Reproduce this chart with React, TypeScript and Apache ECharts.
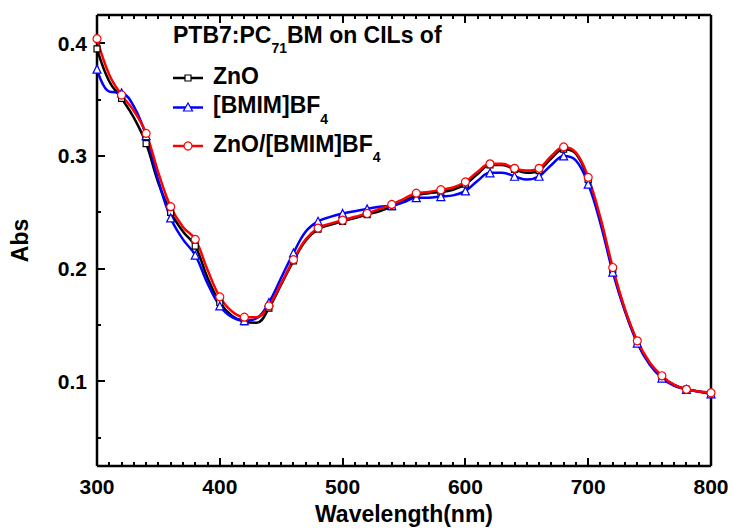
import React, { useEffect, useRef } from 'react';
import * as echarts from 'echarts';

const wavelengths = [300, 310, 320, 330, 340, 350, 360, 370, 380, 390, 400, 410, 420, 430, 440, 450, 460, 470, 480, 490, 500, 510, 520, 530, 540, 550, 560, 570, 580, 590, 600, 610, 620, 630, 640, 650, 660, 670, 680, 690, 700, 710, 720, 730, 740, 750, 760, 770, 780, 790, 800];

const absZnO = [0.395, 0.366, 0.351, 0.334, 0.311, 0.276, 0.250, 0.233, 0.220, 0.192, 0.170, 0.158, 0.153, 0.152, 0.165, 0.186, 0.207, 0.225, 0.235, 0.239, 0.242, 0.245, 0.248, 0.251, 0.255, 0.260, 0.265, 0.267, 0.268, 0.270, 0.275, 0.284, 0.292, 0.292, 0.288, 0.285, 0.287, 0.298, 0.306, 0.302, 0.279, 0.243, 0.199, 0.163, 0.135, 0.116, 0.104, 0.097, 0.093, 0.091, 0.089];

const absBMIM = [0.377, 0.357, 0.356, 0.344, 0.318, 0.278, 0.245, 0.226, 0.212, 0.187, 0.167, 0.157, 0.154, 0.156, 0.170, 0.192, 0.214, 0.233, 0.242, 0.246, 0.249, 0.251, 0.253, 0.255, 0.256, 0.259, 0.263, 0.263, 0.264, 0.265, 0.269, 0.278, 0.285, 0.285, 0.282, 0.279, 0.282, 0.292, 0.300, 0.296, 0.275, 0.240, 0.197, 0.162, 0.134, 0.115, 0.103, 0.096, 0.093, 0.091, 0.089];

const absZnOBMIM = [0.404, 0.372, 0.354, 0.340, 0.320, 0.285, 0.255, 0.237, 0.226, 0.199, 0.175, 0.162, 0.157, 0.157, 0.167, 0.187, 0.208, 0.226, 0.236, 0.240, 0.243, 0.246, 0.249, 0.253, 0.257, 0.262, 0.267, 0.268, 0.270, 0.272, 0.277, 0.286, 0.293, 0.293, 0.289, 0.287, 0.289, 0.300, 0.308, 0.303, 0.281, 0.245, 0.201, 0.164, 0.136, 0.117, 0.105, 0.097, 0.093, 0.091, 0.090];

const X_MIN = 300;
const X_MAX = 800;
const Y_MIN = 0.025;
const Y_MAX = 0.425;
const xMajorTicks = [300, 400, 500, 600, 700, 800];
const xMinorTicks = [310, 320, 330, 340, 350, 360, 370, 380, 390, 410, 420, 430, 440, 450, 460, 470, 480, 490, 510, 520, 530, 540, 550, 560, 570, 580, 590, 610, 620, 630, 640, 650, 660, 670, 680, 690, 710, 720, 730, 740, 750, 760, 770, 780, 790];
const yMajorTicks = [0.1, 0.2, 0.3, 0.4];
const yMinorTicks = [0.05, 0.15, 0.25, 0.35];

const FONT = '"Liberation Sans", Arial, Helvetica, sans-serif';

const pairs = (ys: number[]) => wavelengths.map((w, i) => [w, ys[i]]);

export default function App() {
  const ref = useRef<HTMLDivElement>(null);

  useEffect(() => {
    document.body.style.margin = '0';
    if (!ref.current) return;
    const chart = echarts.init(ref.current, undefined, { renderer: 'svg' });

    const markerEvery = (name: string) => (val: number[]) => (val[0] % 20 === 0 ? name : 'none');

    const richStyles = {
      a: { fontSize: 23, fontWeight: 'bold', fontFamily: FONT, color: '#000', lineHeight: 28, verticalAlign: 'top' },
      s: { fontSize: 14, fontWeight: 'bold', fontFamily: FONT, color: '#000', lineHeight: 50, verticalAlign: 'middle' },
    };

    const legendItem = (y: number, color: string, sym: any, text: string) => ({
      type: 'group',
      children: [
        { type: 'line', shape: { x1: 173, y1: y, x2: 203, y2: y }, style: { stroke: color, lineWidth: 2.5 } },
        sym,
        { type: 'text', x: 213, y: y - 14, style: { text, rich: richStyles, verticalAlign: 'top', align: 'left' } },
      ],
    });

    const legendGraphic: any[] = [
      { type: 'text', x: 173, y: 37 - 14, style: { text: '{a|PTB7:PC}{s|71}{a|BM on CILs of}', rich: richStyles, verticalAlign: 'top', align: 'left' } },
      legendItem(78, '#000', { type: 'rect', shape: { x: 185, y: 75, width: 6, height: 6 }, style: { fill: '#fff', stroke: '#000', lineWidth: 1.2 } }, '{a|ZnO}'),
      legendItem(107.5, '#0000ff', { type: 'polygon', shape: { points: [[188, 103], [192.5, 111], [183.5, 111]] }, style: { fill: '#fff', stroke: '#0000ff', lineWidth: 1.2 } }, '{a|[BMIM]BF}{s|4}'),
      legendItem(146, '#ff0000', { type: 'circle', shape: { cx: 188, cy: 146, r: 4 }, style: { fill: '#fff', stroke: '#ff0000', lineWidth: 1.2 } }, '{a|ZnO/[BMIM]BF}{s|4}'),
    ];

    const option: any = {
      animation: false,
      tooltip: { show: false },
      grid: { left: 97, right: 21, top: 15, bottom: 63, show: false },
      xAxis: {
        type: 'value', min: X_MIN, max: X_MAX, interval: 100,
        axisLine: { show: false },
        axisTick: { show: false },
        splitLine: { show: false },
        axisLabel: { color: '#000', fontSize: 21, fontWeight: 'bold', fontFamily: FONT, margin: 10 },
        name: 'Wavelength(nm)', nameLocation: 'middle', nameGap: 36,
        nameTextStyle: { color: '#000', fontSize: 23, fontWeight: 'bold', fontFamily: FONT, verticalAlign: 'top' },
      },
      yAxis: {
        type: 'value', min: Y_MIN, max: Y_MAX,
        axisLine: { show: false },
        axisTick: { show: false },
        splitLine: { show: false },
        axisLabel: {
          color: '#000', fontSize: 21, fontWeight: 'bold', fontFamily: FONT, margin: 10,
          customValues: yMajorTicks, formatter: (v: number) => v.toFixed(1),
        },
        name: 'Abs', nameLocation: 'middle', nameGap: 66, nameRotate: 90,
        nameTextStyle: { color: '#000', fontSize: 23, fontWeight: 'bold', fontFamily: FONT },
      },
      series: [
        {
          name: 'ZnO', type: 'line', data: pairs(absZnO), smooth: 0.4,
          showAllSymbol: true, symbol: markerEvery('rect'), symbolSize: 6,
          lineStyle: { color: '#000', width: 2.5 },
          itemStyle: { color: '#fff', borderColor: '#000', borderWidth: 1.2 },
        },
        {
          name: '[BMIM]BF4', type: 'line', data: pairs(absBMIM), smooth: 0.4,
          showAllSymbol: true, symbol: markerEvery('triangle'), symbolSize: 8,
          lineStyle: { color: '#0000ff', width: 2.5 },
          itemStyle: { color: '#fff', borderColor: '#0000ff', borderWidth: 1.2 },
        },
        {
          name: 'ZnO/[BMIM]BF4', type: 'line', data: pairs(absZnOBMIM), smooth: 0.4,
          showAllSymbol: true, symbol: markerEvery('circle'), symbolSize: 8,
          lineStyle: { color: '#ff0000', width: 2.5 },
          itemStyle: { color: '#fff', borderColor: '#ff0000', borderWidth: 1.2 },
        },
      ],
    };

    chart.setOption(option);

    // Frame and inward ticks, positioned through the chart's own scales
    const px = (x: number, y: number) => chart.convertToPixel({ gridIndex: 0 }, [x, y]) as number[];
    const tl = px(X_MIN, Y_MAX);
    const br = px(X_MAX, Y_MIN);
    const left = Math.round(tl[0]);
    const top = Math.round(tl[1]);
    const right = Math.round(br[0]);
    const bottom = Math.round(br[1]);
    const frameStyle = { stroke: '#000', lineWidth: 2.5 };
    const tickGraphic: any[] = [
      { type: 'line', silent: true, shape: { x1: left, y1: top, x2: right, y2: top }, style: frameStyle },
      { type: 'line', silent: true, shape: { x1: left, y1: bottom, x2: right, y2: bottom }, style: frameStyle },
      { type: 'line', silent: true, shape: { x1: left, y1: top, x2: left, y2: bottom }, style: frameStyle },
      { type: 'line', silent: true, shape: { x1: right, y1: top, x2: right, y2: bottom }, style: frameStyle },
    ];
    const addX = (ticks: number[], len: number) => {
      ticks.forEach((v) => {
        const x = Math.round(px(v, Y_MIN)[0]);
        const st = { stroke: '#000', lineWidth: 2 };
        tickGraphic.push({ type: 'line', silent: true, shape: { x1: x, y1: bottom, x2: x, y2: bottom - len }, style: st });
        tickGraphic.push({ type: 'line', silent: true, shape: { x1: x, y1: top, x2: x, y2: top + len }, style: st });
      });
    };
    const addY = (ticks: number[], len: number) => {
      ticks.forEach((v) => {
        const y = Math.round(px(X_MIN, v)[1]);
        tickGraphic.push({ type: 'line', silent: true, shape: { x1: left, y1: y, x2: left + len, y2: y }, style: { stroke: '#000', lineWidth: 2 } });
      });
    };
    addX(xMajorTicks, 8);
    addX(xMinorTicks, 4);
    addY(yMajorTicks, 8);
    addY(yMinorTicks, 4);

    chart.setOption({ graphic: [...legendGraphic, ...tickGraphic] });
    return () => chart.dispose();
  }, []);

  return <div ref={ref} style={{ width: 732, height: 530 }} />;
}
